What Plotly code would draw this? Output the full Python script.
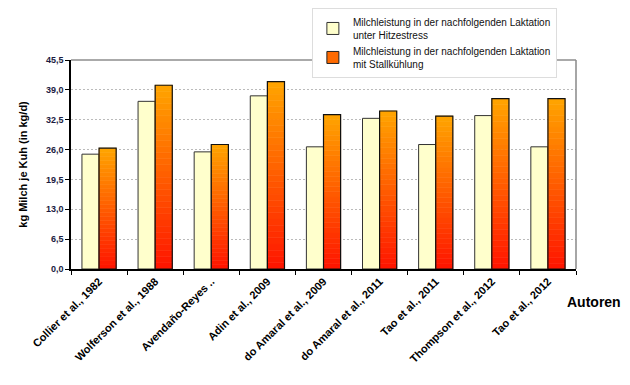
import plotly.graph_objects as go

categories = ["Collier et al., 1982", "Wolferson et al., 1988", "Avendaño-Reyes ..",
              "Adin et al., 2009", "do Amaral et al., 2009", "do Amaral et al., 2011",
              "Tao et al., 2011", "Thompson et al., 2012", "Tao et al., 2012"]
hitzestress = [25.0, 36.5, 25.5, 37.7, 26.6, 32.8, 27.1, 33.4, 26.6]
stallkuehlung = [26.3, 40.0, 27.1, 40.8, 33.6, 34.4, 33.3, 37.1, 37.1]
name_a = "Milchleistung in der nachfolgenden Laktation<br>unter Hitzestress"
name_b = "Milchleistung in der nachfolgenden Laktation<br>mit Stallkühlung"

FONT = "Liberation Sans, Arial, sans-serif"
fig = go.Figure()
fig.add_trace(go.Bar(x=categories, y=hitzestress, name=name_a, offsetgroup="a",
                     marker=dict(color="#FFFFCC", line=dict(color="#333333", width=1))))
# legend entry for the gradient series
fig.add_trace(go.Bar(x=categories, y=[None] * len(categories), name=name_b, offsetgroup="b",
                     marker=dict(color="#FF6A00", line=dict(color="#222222", width=1))))

N = 30
bottom = (255, 20, 0)
top = (255, 165, 0)
for i in range(N):
    t = (i + 0.5) / N
    c = tuple(round(bottom[k] + (top[k] - bottom[k]) * t) for k in range(3))
    col = "rgb(%d,%d,%d)" % c
    fig.add_trace(go.Bar(x=categories, y=[v / N for v in stallkuehlung],
                         base=[v * i / N for v in stallkuehlung], offsetgroup="b",
                         showlegend=False, hoverinfo="skip",
                         marker=dict(color=col, line=dict(color=col, width=0.6))))
fig.add_trace(go.Bar(x=categories, y=stallkuehlung, offsetgroup="b", showlegend=False,
                     marker=dict(color="rgba(0,0,0,0)", line=dict(color="#111111", width=1.2))))

fig.update_layout(
    width=622, height=377, barmode="group", bargap=0.39, bargroupgap=0,
    margin=dict(l=63, r=54, t=52, b=116, autoexpand=False),
    paper_bgcolor="white", plot_bgcolor="white",
    separators=", ",
    font=dict(family=FONT, color="#000000"),
    legend=dict(x=0.477, y=1.249, xanchor="left", yanchor="top",
                bordercolor="#DDDDDD", borderwidth=1, bgcolor="white",
                font=dict(size=10, family=FONT, color="#111111"), tracegroupgap=0,
                itemwidth=30),
    showlegend=True,
)
fig.update_yaxes(range=[0, 45.5], dtick=6.5, tick0=0, tickformat=".1f",
                 showgrid=True, gridcolor="#BBBBBB", griddash="2px,2px", gridwidth=1,
                 showline=True, linecolor="#000000", linewidth=1.5,
                 ticks="outside", ticklen=4, tickcolor="#000000",
                 tickfont=dict(size=9, family=FONT, color="#1A1A40", weight="bold"),
                 title=dict(text="<b>kg Milch je Kuh (in kg/d)</b>", font=dict(size=11, family=FONT),
                            standoff=16),
                 zeroline=False, mirror=False)
fig.update_xaxes(tickangle=-45, tickson="boundaries", ticks="outside", ticklen=4,
                 tickcolor="#000000", showline=True, linecolor="#000000", linewidth=1.5,
                 tickfont=dict(size=11, family=FONT, weight="bold"))
# top and right gray frame
fig.add_shape(type="line", xref="paper", yref="paper", x0=0, x1=1, y0=1, y1=1,
              line=dict(color="#AAAAAA", width=2))
fig.add_shape(type="line", xref="paper", yref="paper", x0=1, x1=1, y0=0, y1=1,
              line=dict(color="#888888", width=1.5))
fig.add_annotation(text="<b>Autoren</b>", xref="paper", yref="paper", x=1.035, y=-0.158,
                   xanchor="center", yanchor="middle",
                   showarrow=False, font=dict(size=14, family=FONT, color="#000000"))
fig.write_html("out.html")
